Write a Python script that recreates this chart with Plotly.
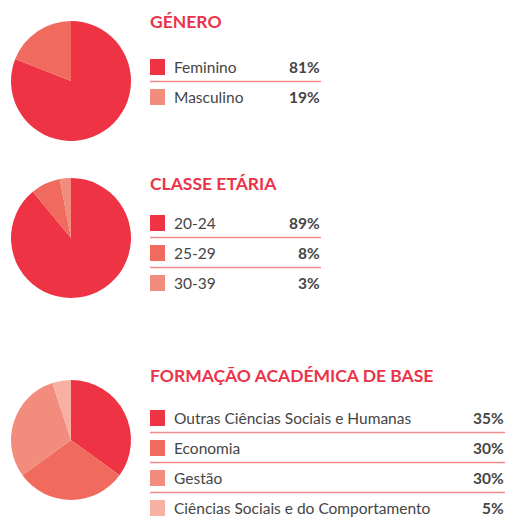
import plotly.graph_objects as go

OFF = 0
W, H = 508, 518

genero_labels = ["Feminino", "Masculino"]
genero_values = [81, 19]

idade_labels = ["20-24", "25-29", "30-39"]
idade_values = [89, 8, 3]

formacao_labels = ["Outras Ciências Sociais e Humanas", "Economia", "Gestão",
                   "Ciências Sociais e do Comportamento"]
formacao_values = [35, 30, 30, 5]

titles = ["GÉNERO", "CLASSE ETÁRIA", "FORMAÇÃO ACADÉMICA DE BASE"]

pie_colors = ["#EE3344", "#F06A5E", "#F28C7C", "#F7B0A2"]
legend_colors_genero = ["#EE3344", "#F28C7C"]
legend_colors = ["#EE3344", "#F06A5E", "#F28C7C", "#F7B0A2"]
red = "#EB3349"
line_col = "#F08A8E"
text_col = "#454545"
FONT = "Lato"

groups = [
    dict(labels=genero_labels, values=genero_values, title=titles[0],
         pie_cy=81, title_y=21, rows=[67, 97], right=321, lcols=legend_colors_genero),
    dict(labels=idade_labels, values=idade_values, title=titles[1],
         pie_cy=238, title_y=184, rows=[223, 253, 283], right=321, lcols=legend_colors),
    dict(labels=formacao_labels, values=formacao_values, title=titles[2],
         pie_cy=440, title_y=375, rows=[418, 448, 478, 508], right=505, lcols=legend_colors),
]

def px(x):
    return (x - OFF) / W

def py(y):
    return 1 - (y - OFF) / H

fig = go.Figure()
annotations = []
shapes = []
R = 60
CX = 71
for g in groups:
    n = len(g["values"])
    fig.add_trace(go.Pie(
        labels=g["labels"], values=g["values"], sort=False, direction="clockwise",
        rotation=0, textinfo="none", hoverinfo="skip", showlegend=False,
        marker=dict(colors=pie_colors[:n], line=dict(width=0)),
        domain=dict(x=[px(CX - R), px(CX + R)], y=[py(g["pie_cy"] + R), py(g["pie_cy"] - R)]),
    ))
    annotations.append(dict(
        text="<b>%s</b>" % g["title"], x=px(148), y=py(g["title_y"]), xref="paper", yref="paper",
        xanchor="left", yanchor="middle", showarrow=False,
        font=dict(family=FONT, size=17.5, color=red)))
    for i, (lab, val) in enumerate(zip(g["labels"], g["values"])):
        cy = g["rows"][i]
        shapes.append(dict(type="rect", xref="paper", yref="paper",
                           x0=px(150), x1=px(165), y0=py(cy + 8), y1=py(cy - 8),
                           fillcolor=g["lcols"][i], line=dict(width=0)))
        annotations.append(dict(
            text=lab, x=px(172), y=py(cy), xref="paper", yref="paper",
            xanchor="left", yanchor="middle", showarrow=False,
            font=dict(family=FONT, size=15.5, color=text_col)))
        annotations.append(dict(
            text="<b>%d%%</b>" % val, x=px(g["right"] + 1), y=py(cy), xref="paper", yref="paper",
            xanchor="right", yanchor="middle", showarrow=False,
            font=dict(family=FONT, size=15.5, color=text_col)))
        if i < n - 1:
            ly = cy + 14.5
            shapes.append(dict(type="line", xref="paper", yref="paper",
                               x0=px(150), x1=px(g["right"]), y0=py(ly), y1=py(ly),
                               line=dict(color=line_col, width=1.5)))

fig.update_layout(
    width=W, height=H, margin=dict(l=0, r=0, t=0, b=0),
    paper_bgcolor="white", plot_bgcolor="white",
    annotations=annotations, shapes=shapes,
)
fig.write_html(
    "out.html",
    config={"displayModeBar": False},
    post_script="document.body.style.margin='0';document.body.style.overflow='hidden';",
)
